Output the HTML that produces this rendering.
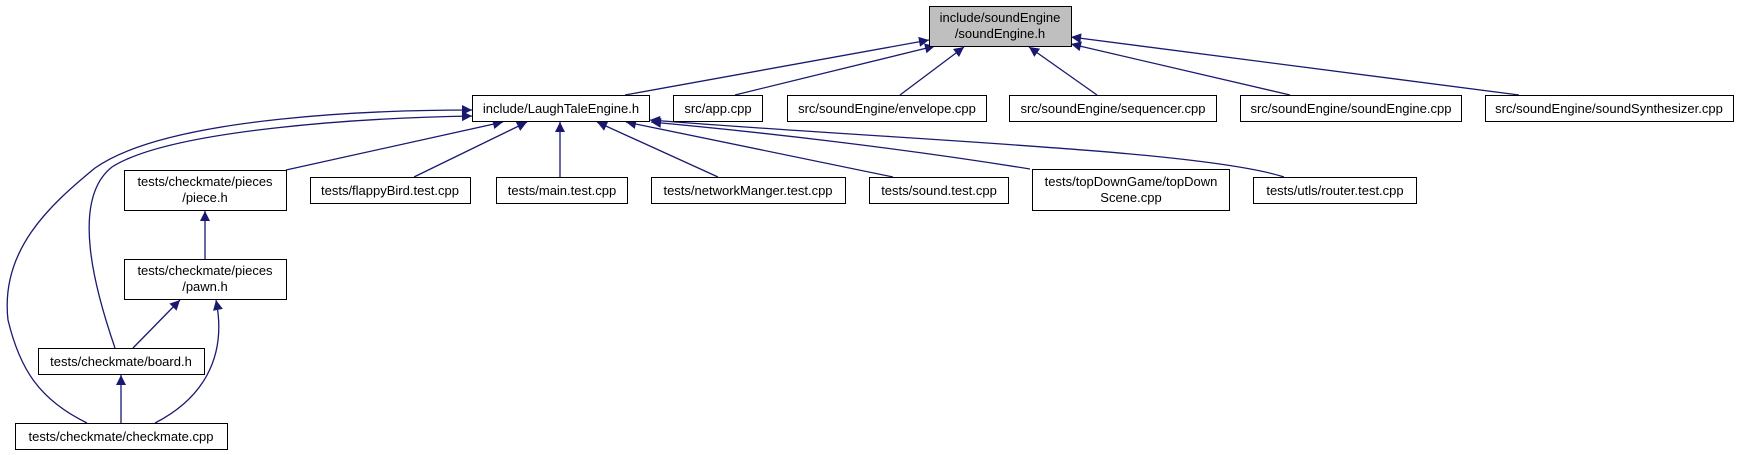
<!DOCTYPE html>
<html><head><meta charset="utf-8"><style>
html,body{margin:0;padding:0;background:#fff;}
svg{display:block;}
text{font-family:"Liberation Sans",Arial,sans-serif;font-size:13px;fill:#000;}
</style></head><body>
<svg width="1739" height="455" viewBox="0 0 1739 455" xmlns="http://www.w3.org/2000/svg">
<defs>
<marker id="a" viewBox="0 0 10 10" refX="10" refY="5" markerWidth="13" markerHeight="10" markerUnits="userSpaceOnUse" orient="auto">
<path d="M0,0 L10,5 L0,10 z" fill="#191970"/>
</marker>
</defs>
<g fill="none" stroke="#191970" stroke-width="1.3" marker-end="url(#a)">
<path d="M625,95 L929,40"/>
<path d="M735,95 L935,46"/>
<path d="M900,95 L964,47"/>
<path d="M1097,95 L1029,47"/>
<path d="M1290,95 L1071,44"/>
<path d="M1519,95 L1071,37"/>
<path d="M286,170 L503,122"/>
<path d="M414,177 L527,122"/>
<path d="M560,177 L560,122"/>
<path d="M718,177 L597,122"/>
<path d="M893,177 L626,122"/>
<path d="M1030,169 C900,148 760,132 651,122"/>
<path d="M1284,177 C1200,150 900,140 650,120"/>
<path d="M115,348 C95,290 70,200 112,167 C170,130 360,118 472,116"/>
<path d="M87,423 C40,400 20,370 8,320 C0,250 50,205 95,168 C170,115 390,110 472,110"/>
<path d="M205,259 L205,211"/>
<path d="M133,348 L180,300"/>
<path d="M155,423 C200,400 228,360 216,300"/>
<path d="M121,423 L121,375"/>
</g>
<g stroke="#000" stroke-width="1">
<rect x="929.5" y="6.5" width="142" height="40" fill="#bfbfbf"/>
</g>
<g fill="#fff" stroke="#000" stroke-width="1">
<rect x="472.5" y="95.5" width="177" height="26"/>
<rect x="673.5" y="95.5" width="89" height="26"/>
<rect x="787.5" y="95.5" width="199" height="26"/>
<rect x="1009.5" y="95.5" width="207" height="26"/>
<rect x="1240.5" y="95.5" width="221" height="26"/>
<rect x="1485.5" y="95.5" width="248" height="26"/>
<rect x="124.5" y="170.5" width="162" height="40"/>
<rect x="310.5" y="177.5" width="160" height="26"/>
<rect x="496.5" y="177.5" width="131" height="26"/>
<rect x="651.5" y="177.5" width="194" height="26"/>
<rect x="869.5" y="177.5" width="139" height="26"/>
<rect x="1032.5" y="169.5" width="197" height="41"/>
<rect x="1253.5" y="177.5" width="163" height="26"/>
<rect x="124.5" y="259.5" width="162" height="40"/>
<rect x="38.5" y="348.5" width="166" height="26"/>
<rect x="15.5" y="423.5" width="212" height="26"/>
</g>
<g text-anchor="middle">
<text x="1000" y="22">include/soundEngine</text>
<text x="1000" y="38">/soundEngine.h</text>
<text x="561" y="113">include/LaughTaleEngine.h</text>
<text x="718" y="113">src/app.cpp</text>
<text x="887" y="113">src/soundEngine/envelope.cpp</text>
<text x="1113" y="113">src/soundEngine/sequencer.cpp</text>
<text x="1351" y="113">src/soundEngine/soundEngine.cpp</text>
<text x="1609" y="113">src/soundEngine/soundSynthesizer.cpp</text>
<text x="205" y="186">tests/checkmate/pieces</text>
<text x="205" y="202">/piece.h</text>
<text x="390" y="195">tests/flappyBird.test.cpp</text>
<text x="562" y="195">tests/main.test.cpp</text>
<text x="748" y="195">tests/networkManger.test.cpp</text>
<text x="939" y="195">tests/sound.test.cpp</text>
<text x="1131" y="186">tests/topDownGame/topDown</text>
<text x="1131" y="202">Scene.cpp</text>
<text x="1335" y="195">tests/utls/router.test.cpp</text>
<text x="205" y="275">tests/checkmate/pieces</text>
<text x="205" y="291">/pawn.h</text>
<text x="121" y="366">tests/checkmate/board.h</text>
<text x="121" y="441">tests/checkmate/checkmate.cpp</text>
</g>
</svg>
</body></html>
